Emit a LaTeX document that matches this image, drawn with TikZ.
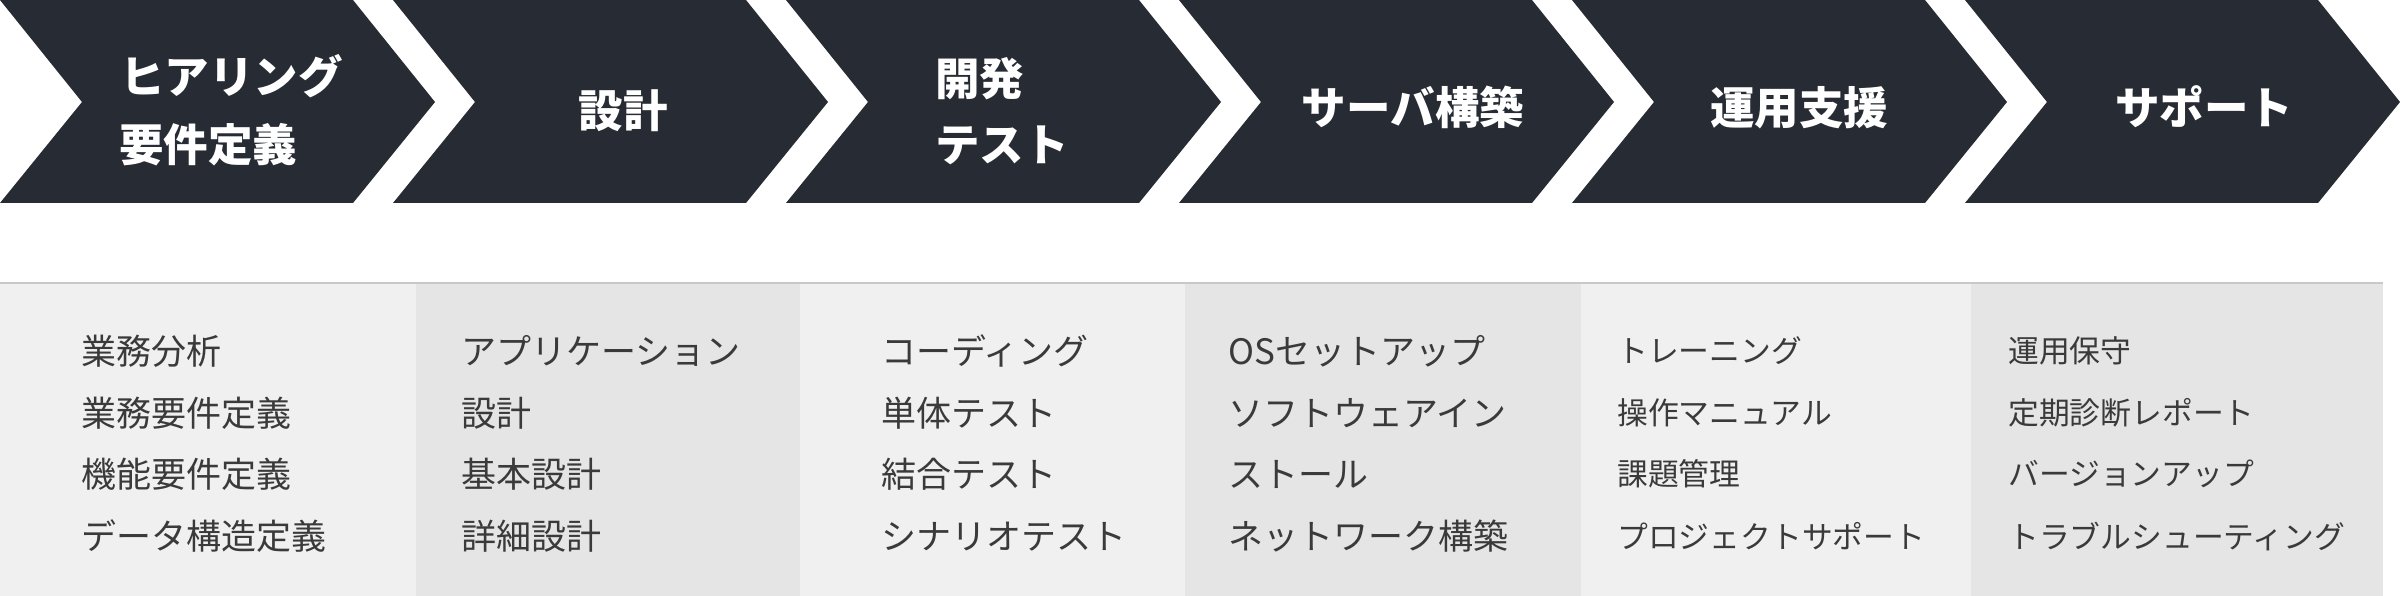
\documentclass[tikz,border=0pt]{standalone}
\usepackage{fontspec}
\setmainfont{Noto Sans CJK JP}
\definecolor{chev}{HTML}{272B33}
\definecolor{panL}{HTML}{F0F0F0}
\definecolor{panD}{HTML}{E5E5E5}
\definecolor{panLine}{HTML}{C8C8C8}
\definecolor{bodytxt}{HTML}{3A3A3A}
\tikzset{
  title/.style={font=\fontsize{44.5}{44.5}\selectfont\bfseries, text=white, inner sep=0pt, text height=39.2pt, text depth=5.3pt},
  body/.style={font=\fontsize{35}{35}\selectfont, text=bodytxt, anchor=west, inner sep=0pt, text height=30.8pt, text depth=4.2pt},
  bodysm/.style={font=\fontsize{30.8}{30.8}\selectfont, text=bodytxt, anchor=west, inner sep=0pt, text height=27.1pt, text depth=3.7pt},
}
\begin{document}
\begin{tikzpicture}[x=1pt,y=-1pt]
\useasboundingbox (0,0) rectangle (2400,596);
\fill[white] (0,0) rectangle (2400,596);
% chevrons
\foreach \k in {0,...,5}{
  \fill[chev] ({393*\k},0) -- ({393*\k+353},0) -- ({393*\k+435},102) -- ({393*\k+353},203) -- ({393*\k},203) -- ({393*\k+82},102) -- cycle;
}
% panels
\fill[panL] (0,283) rectangle (416,596);
\fill[panD] (416,283) rectangle (800,596);
\fill[panL] (800,283) rectangle (1185,596);
\fill[panD] (1185,283) rectangle (1581,596);
\fill[panL] (1581,283) rectangle (1971,596);
\fill[panD] (1971,283) rectangle (2383,596);
\draw[panLine, line width=1.5pt] (0,283) -- (2383,283);
% titles
\node[title, anchor=west] (t1a) at (120,77) {ヒアリング};
\node[title, anchor=west] (t1b) at (119,145) {要件定義};
\node[title] (t2) at (623,111) {設計};
\node[title, anchor=west] (t3a) at (935,79) {開発};
\node[title, anchor=west] (t3b) at (935,145) {テスト};
\node[title] (t4) at (1413,108) {サーバ構築};
\node[title] (t5) at (1799,108) {運用支援};
\node[title] (t6) at (2204,108) {サポート};
% column 1
\node[body] (a1) at (81,351) {業務分析};
\node[body] (a2) at (81,413) {業務要件定義};
\node[body] (a3) at (81,474) {機能要件定義};
\node[body] (a4) at (81,536) {データ構造定義};
% column 2
\node[body] (b1) at (461,351) {アプリケーション};
\node[body] (b2) at (461,413) {設計};
\node[body] (b3) at (461,474) {基本設計};
\node[body] (b4) at (461,536) {詳細設計};
% column 3
\node[body] (c1) at (881,351) {コーディング};
\node[body] (c2) at (881,413) {単体テスト};
\node[body] (c3) at (881,474) {結合テスト};
\node[body] (c4) at (881,536) {シナリオテスト};
% column 4
\node[body] (d1) at (1228,351) {OSセットアップ};
\node[body] (d2) at (1228,413) {ソフトウェアイン};
\node[body] (d3) at (1228,474) {ストール};
\node[body] (d4) at (1228,536) {ネットワーク構築};
% column 5
\node[bodysm] (e1) at (1617,351) {トレーニング};
\node[bodysm] (e2) at (1617,413) {操作マニュアル};
\node[bodysm] (e3) at (1617,474) {課題管理};
\node[bodysm] (e4) at (1617,537) {プロジェクトサポート};
% column 6
\node[bodysm] (f1) at (2008,351) {運用保守};
\node[bodysm] (f2) at (2008,413) {定期診断レポート};
\node[bodysm] (f3) at (2008,474) {バージョンアップ};
\node[bodysm] (f4) at (2008,537) {トラブルシューティング};
\end{tikzpicture}
\end{document}
